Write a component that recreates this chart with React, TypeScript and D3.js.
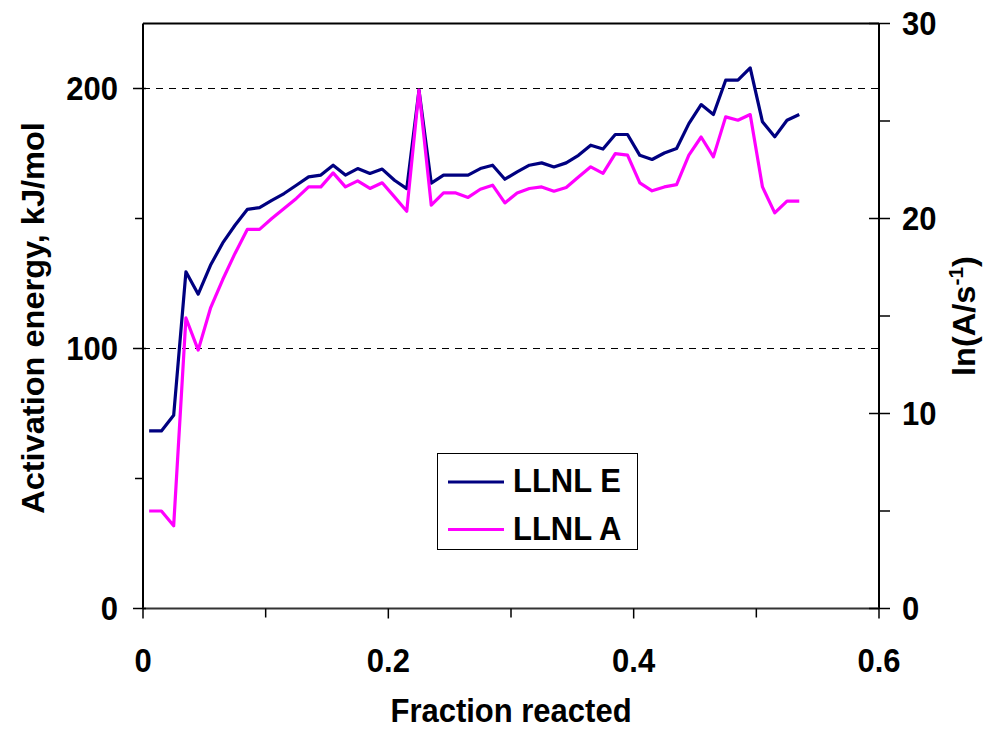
import React from "react";
import * as d3 from "d3";

const fraction = [
  0.005, 0.015, 0.025, 0.035, 0.045, 0.055, 0.065, 0.075, 0.085, 0.095,
  0.105, 0.115, 0.125, 0.135, 0.145, 0.155, 0.165, 0.175, 0.185, 0.195,
  0.205, 0.215, 0.225, 0.235, 0.245, 0.255, 0.265, 0.275, 0.285, 0.295,
  0.305, 0.315, 0.325, 0.335, 0.345, 0.355, 0.365, 0.375, 0.385, 0.395,
  0.405, 0.415, 0.425, 0.435, 0.445, 0.455, 0.465, 0.475, 0.485, 0.495,
  0.505, 0.515, 0.525, 0.535,
];

const llnlE = [
  68.3, 68.3, 74.3, 129.5, 120.9, 132.0, 140.6, 147.4, 153.5, 154.2,
  157.0, 159.6, 162.8, 166.0, 166.7, 170.5, 166.7, 169.2, 167.3, 169.0,
  164.7, 161.5, 199.3, 163.6, 166.7, 166.7, 166.7, 169.2, 170.5, 165.1,
  167.9, 170.5, 171.4, 169.8, 171.4, 174.3, 178.2, 176.7, 182.3, 182.3,
  174.3, 172.7, 175.2, 176.9, 186.5, 193.8, 190.0, 203.2, 203.2, 207.9,
  187.2, 181.4, 187.8, 190.0,
];

const llnlA = [
  5.0, 5.0, 4.24, 14.9, 13.25, 15.4, 16.87, 18.21, 19.44, 19.44,
  20.0, 20.51, 21.03, 21.62, 21.62, 22.34, 21.62, 21.93, 21.54, 21.83,
  21.11, 20.37, 26.58, 20.68, 21.31, 21.31, 21.08, 21.5, 21.71, 20.8,
  21.31, 21.54, 21.62, 21.4, 21.59, 22.13, 22.65, 22.31, 23.33, 23.25,
  21.83, 21.42, 21.62, 21.74, 23.25, 24.18, 23.16, 25.21, 25.04, 25.33,
  21.62, 20.29, 20.89, 20.89,
];

const xTicks = [0, 0.2, 0.4, 0.6];
const xMinorTicks = [0.1, 0.3, 0.5];
const leftTicks = [0, 100, 200];
const leftMinorTicks = [50, 150];
const rightTicks = [0, 10, 20, 30];
const rightMinorTicks = [5, 15, 25];
const gridValues = [100, 200];
const seriesNames = ["LLNL E", "LLNL A"];
const seriesColors = ["#000080", "#FF00FF"];

const L = 143, R = 879, T = 23.5, B = 608.5;
const FONT = "'Liberation Sans', Arial, Helvetica, sans-serif";
const SY = 1.07;

function T2({
  x,
  y,
  anchor = "start",
  rotate = false,
  children,
}: {
  x: number;
  y: number;
  anchor?: "start" | "middle" | "end";
  rotate?: boolean;
  children: React.ReactNode;
}) {
  const tf = rotate
    ? `translate(${x},${y}) rotate(-90) scale(1.05,1)`
    : `translate(${x},${y}) scale(1,${SY})`;
  return (
    <text
      transform={tf}
      textAnchor={anchor}
      fontFamily={FONT}
      fontWeight={700}
      fontSize={31}
      fill="#000"
    >
      {children}
    </text>
  );
}

export default function App() {
  const x = d3.scaleLinear().domain([0, 0.6]).range([L, R]);
  const yL = d3.scaleLinear().domain([0, 225]).range([B, T]);
  const yR = d3.scaleLinear().domain([0, 30]).range([B, T]);

  const lineE = d3
    .line<number>()
    .x((_, i) => x(fraction[i]))
    .y((d) => yL(d));
  const lineA = d3
    .line<number>()
    .x((_, i) => x(fraction[i]))
    .y((d) => yR(d));

  const fmtX = (v: number) => (v === 0 ? "0" : d3.format(".1f")(v));
  const capHalf = 11.8;

  return (
    <svg
      width={1000}
      height={729}
      style={{ position: "absolute", left: 0, top: 0, background: "#fff" }}
    >
      <rect x={0} y={0} width={1000} height={729} fill="#fff" />
      {gridValues.map((g) => (
        <line
          key={"g" + g}
          x1={L}
          x2={R}
          y1={yL(g)}
          y2={yL(g)}
          stroke="#000"
          strokeWidth={1}
          strokeDasharray="7,6"
        />
      ))}
      <line x1={L} x2={R} y1={T} y2={T} stroke="#000" strokeWidth={2} />
      <line x1={L} x2={L} y1={T} y2={B} stroke="#000" strokeWidth={2} />
      <line x1={R} x2={R} y1={T} y2={B} stroke="#000" strokeWidth={2} />
      <line x1={L} x2={R} y1={B} y2={B} stroke="#333" strokeWidth={2} />

      {leftTicks.map((t) => (
        <g key={"lt" + t}>
          <line x1={L - 10} x2={L + 3} y1={yL(t)} y2={yL(t)} stroke="#000" strokeWidth={1.5} />
          <T2 x={L - 25} y={yL(t) + capHalf} anchor="end">
            {t}
          </T2>
        </g>
      ))}
      {leftMinorTicks.map((t) => (
        <line key={"lm" + t} x1={L - 8} x2={L} y1={yL(t)} y2={yL(t)} stroke="#000" strokeWidth={1.5} />
      ))}

      {rightTicks.map((t) => (
        <g key={"rt" + t}>
          <line x1={R - 10} x2={R + 11} y1={yR(t)} y2={yR(t)} stroke="#000" strokeWidth={1.5} />
          <T2 x={R + 23} y={yR(t) + capHalf}>
            {t}
          </T2>
        </g>
      ))}
      {rightMinorTicks.map((t) => (
        <line key={"rm" + t} x1={R} x2={R + 11} y1={yR(t)} y2={yR(t)} stroke="#000" strokeWidth={1.5} />
      ))}

      {xTicks.map((t) => (
        <g key={"xt" + t}>
          <line x1={x(t)} x2={x(t)} y1={B} y2={B + 10} stroke="#000" strokeWidth={1.5} />
          <T2 x={x(t)} y={672} anchor="middle">
            {fmtX(t)}
          </T2>
        </g>
      ))}
      {xMinorTicks.map((t) => (
        <line key={"xm" + t} x1={x(t)} x2={x(t)} y1={B} y2={B + 9} stroke="#000" strokeWidth={1.5} />
      ))}

      <path d={lineE(llnlE) || ""} fill="none" stroke={seriesColors[0]} strokeWidth={3.2} strokeLinejoin="round" />
      <path d={lineA(llnlA) || ""} fill="none" stroke={seriesColors[1]} strokeWidth={3.2} strokeLinejoin="round" />

      <T2 x={(L + R) / 2} y={722} anchor="middle">
        Fraction reacted
      </T2>
      <T2 x={44} y={(T + B) / 2 + 2} anchor="middle" rotate>
        Activation energy, kJ/mol
      </T2>
      <T2 x={975} y={(T + B) / 2} anchor="middle" rotate>
        ln(A/s
        <tspan dy={-12} fontSize={20}>-1</tspan>
        <tspan dy={12}>)</tspan>
      </T2>

      <rect x={437.5} y={453.5} width={200} height={96} fill="#fff" stroke="#000" strokeWidth={1} />
      {seriesNames.map((n, i) => (
        <g key={n}>
          <line
            x1={448}
            x2={504}
            y1={482 + i * 47.5}
            y2={482 + i * 47.5}
            stroke={seriesColors[i]}
            strokeWidth={3.2}
          />
          <T2 x={513} y={492 + i * 47.5}>
            {n}
          </T2>
        </g>
      ))}
    </svg>
  );
}
